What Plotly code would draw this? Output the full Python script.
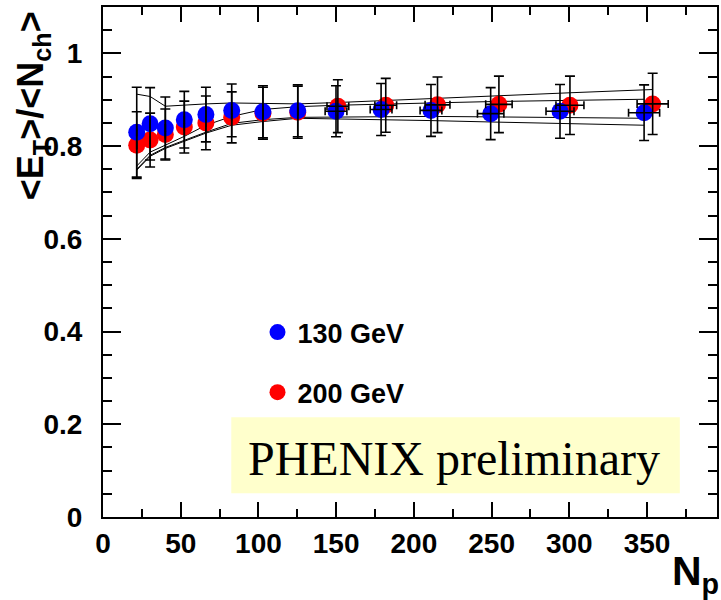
import plotly.graph_objects as go

# ---- data ----
np_130 = [21.7, 30.3, 40.1, 52.3, 66.2, 82.8, 102.9, 125.3, 149.9, 178.9, 211.0, 249.4, 294.0, 348.1]
r_130 = [0.830, 0.848, 0.839, 0.857, 0.868, 0.877, 0.874, 0.876, 0.875, 0.879, 0.877, 0.870, 0.875, 0.872]
r_130_err = [0.097, 0.078, 0.067, 0.061, 0.059, 0.057, 0.056, 0.056, 0.055, 0.056, 0.056, 0.056, 0.058, 0.060]
np_130_err = [0, 0, 0, 0, 0, 0, 0, 0, 7, 7, 7, 8.5, 9, 10]

np_200 = [21.7, 30.3, 40.1, 52.3, 66.2, 82.8, 102.9, 125.3, 151.1, 181.9, 215.2, 254.7, 300.4, 353.6]
r_200 = [0.802, 0.813, 0.825, 0.841, 0.850, 0.862, 0.871, 0.873, 0.886, 0.888, 0.889, 0.890, 0.888, 0.891]
r_200_err = [0.072, 0.058, 0.055, 0.056, 0.058, 0.055, 0.056, 0.056, 0.057, 0.058, 0.060, 0.061, 0.063, 0.066]
np_200_err = [0, 0, 0, 0, 0, 0, 0, 0, 7, 7, 8, 8.5, 9, 10]

# systematic band lines
band_a = [0.912, 0.907, 0.886, 0.889, 0.891, 0.893, 0.892, 0.891, 0.894, 0.898, 0.903, 0.908, 0.915, 0.922]  # on np_200
band_b = [0.757, 0.787, 0.802, 0.821, 0.845, 0.864, 0.879, 0.885, 0.888, 0.891, 0.893, 0.896, 0.898, 0.901]  # on np_130
band_c = [0.750, 0.780, 0.797, 0.813, 0.830, 0.849, 0.857, 0.862, 0.863, 0.864, 0.864, 0.863, 0.862, 0.860]  # on np_130
band_d = [0.748, 0.778, 0.795, 0.810, 0.828, 0.845, 0.853, 0.860, 0.859, 0.857, 0.855, 0.852, 0.849, 0.845]  # on np_130

x_ticks = [0, 50, 100, 150, 200, 250, 300, 350]
y_ticks = [0, 0.2, 0.4, 0.6, 0.8, 1.0]
labels = ["130 GeV", "200 GeV"]

SANS = "Liberation Sans, Arial, Helvetica, sans-serif"
SERIF = "Liberation Serif, Times New Roman, serif"

fig = go.Figure()

# band lines
for xs, ys in [(np_200, band_a), (np_130, band_b), (np_130, band_c), (np_130, band_d)]:
    fig.add_trace(go.Scatter(x=xs, y=ys, mode="lines", line=dict(color="black", width=1),
                             showlegend=False, hoverinfo="skip"))

# markers (red first, blue on top)
fig.add_trace(go.Scatter(x=np_200, y=r_200, mode="markers", name=labels[1],
                         marker=dict(color="#ff0000", size=17, line=dict(width=0)),
                         legendgroup="g200", legendrank=2))
fig.add_trace(go.Scatter(x=np_130, y=r_130, mode="markers", name=labels[0],
                         marker=dict(color="#0000ff", size=17, line=dict(width=0)),
                         legendgroup="g130", legendrank=1))

# error bars drawn on top of the markers
for xs, ys, ex, ey in [(np_200, r_200, np_200_err, r_200_err), (np_130, r_130, np_130_err, r_130_err)]:
    fig.add_trace(go.Scatter(
        x=xs, y=ys, mode="markers", marker=dict(color="rgba(0,0,0,0)", size=1),
        error_y=dict(type="data", array=ey, visible=True, color="black", thickness=1.6, width=5),
        error_x=dict(type="data", array=ex, visible=True, color="black", thickness=1.6, width=4),
        showlegend=False, hoverinfo="skip"))

W, H = 721, 600
L, R, T, B = 103, 2, 7, 83
pw, ph = W - L - R, H - T - B

def px(xp):
    return (xp - L) / pw

def py(yp):
    return (H - B - yp) / ph

fig.update_layout(
    width=W, height=H,
    margin=dict(l=L, r=R, t=T, b=B),
    paper_bgcolor="white", plot_bgcolor="white",
    showlegend=True,
    legend=dict(x=px(258), y=py(308), xanchor="left", yanchor="top",
                traceorder="grouped", tracegroupgap=22,
                font=dict(family=SANS, size=27, color="black", weight="bold"),
                bgcolor="rgba(0,0,0,0)", itemsizing="trace"),
    xaxis=dict(range=[0, 395], tickvals=x_ticks, ticks="inside", ticklen=15, tickwidth=1.5,
               tickcolor="black", showline=True, linecolor="black", linewidth=2, mirror="ticks",
               showgrid=False, zeroline=False, ticklabelstandoff=0,
               minor=dict(dtick=25, tick0=0, ticks="inside", ticklen=8, tickwidth=1.5, tickcolor="black"),
               tickfont=dict(family=SANS, size=28, color="black", weight="bold")),
    yaxis=dict(range=[0, 1.1], tickvals=y_ticks, ticks="inside", ticklen=18, tickwidth=1.5,
               tickcolor="black", showline=True, linecolor="black", linewidth=2, mirror="ticks",
               showgrid=False, zeroline=False, ticklabelstandoff=13,
               minor=dict(dtick=0.05, tick0=0, ticks="inside", ticklen=9, tickwidth=1.5, tickcolor="black"),
               tickfont=dict(family=SANS, size=28, color="black", weight="bold")),
    shapes=[dict(type="rect", xref="paper", yref="paper",
                 x0=px(231.7), x1=px(681.7), y0=py(493.3), y1=py(417.3),
                 fillcolor="#ffffcc", line=dict(width=0), layer="below")],
    annotations=[
        dict(text="PHENIX preliminary", xref="paper", yref="paper", x=px(455.5), y=py(458),
             xanchor="center", yanchor="middle", showarrow=False,
             font=dict(family=SERIF, size=48, color="black")),
        dict(text="&lt;E<sub>T</sub>&gt;/&lt;N<sub>ch</sub>&gt;", xref="paper", yref="paper",
             x=px(33), y=py(106), xanchor="center", yanchor="middle", textangle=-90, showarrow=False,
             font=dict(family=SANS, size=36, color="black", weight="bold")),
        dict(text="N<sub>p</sub>", xref="paper", yref="paper", x=px(723), y=py(602),
             xanchor="right", yanchor="bottom", showarrow=False,
             font=dict(family=SANS, size=41, color="black", weight="bold")),
    ],
)

fig.write_html("out.html")
